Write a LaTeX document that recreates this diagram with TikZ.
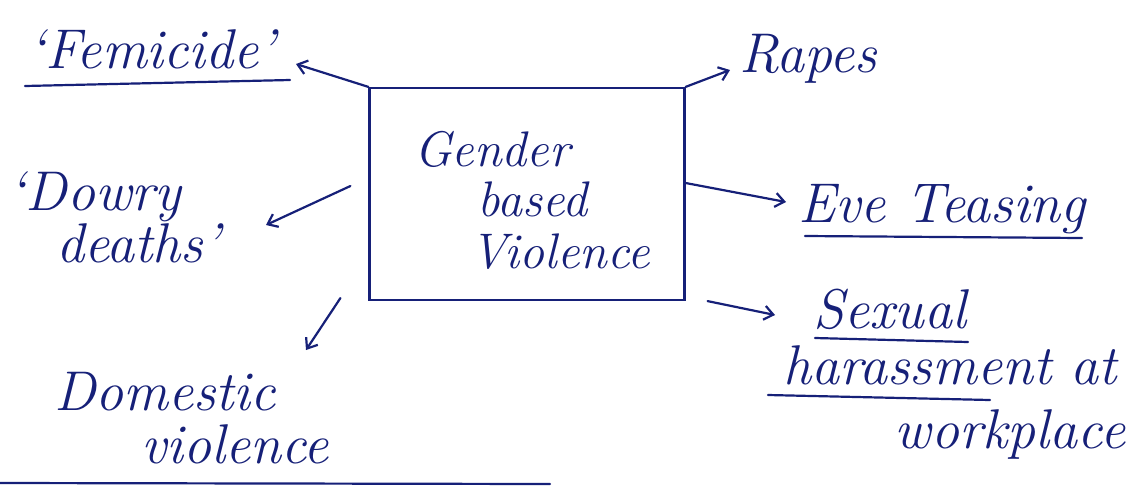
\documentclass[tikz,border=0pt]{standalone}
\usetikzlibrary{arrows.meta}
\definecolor{ink}{RGB}{22,32,120}
\begin{document}
\begin{tikzpicture}[x=1pt,y=-1pt,
  every node/.style={text=ink, font=\fontsize{56}{54}\selectfont\itshape, inner sep=0pt},
  boxtext/.style={font=\fontsize{50}{50}\selectfont\itshape, anchor=base},
  pen/.style={draw=ink, line width=2.2pt, line cap=round},
  link/.style={pen, -{Straight Barb[length=9pt,width=14pt]}},
  uline/.style={pen}]
\useasboundingbox (0,0) rectangle (1140,488);
\fill[white] (0,0) rectangle (1140,488);
% central box
\node[pen, minimum width=315pt, minimum height=212pt] (gbv) at (527,194) {};
\node[boxtext] (g1) at (492,166) {Gender};
\node[boxtext] (g2) at (532,216) {based};
\node[boxtext] (g3) at (560,268) {Violence};
% labels
\node[anchor=base] (fem) at (152,68) {‘Femicide’};
\node[anchor=base] (rapes) at (808,72) {Rapes};
\node[anchor=base] (eve) at (942,222) {Eve Teasing};
\node[anchor=base] (sex) at (890,328) {Sexual};
\node[anchor=base] (har) at (950,384) {harassment at};
\node[anchor=base] (work) at (1010,448) {workplace};
\node[anchor=base] (dow1) at (95,210) {‘Dowry};
\node[anchor=base] (dow2) at (138,262) {deaths’};
\node[anchor=base] (dom1) at (165,410) {Domestic};
\node[anchor=base] (dom2) at (235,463) {violence};
% underlines
\coordinate (u1a) at (25,86); \coordinate (u1b) at (290,80);
\draw[uline] (u1a) -- (u1b);
\coordinate (u2a) at (805,236); \coordinate (u2b) at (1082,238);
\draw[uline] (u2a) -- (u2b);
\coordinate (u3a) at (815,338); \coordinate (u3b) at (968,342);
\draw[uline] (u3a) -- (u3b);
\coordinate (u4a) at (768,395); \coordinate (u4b) at (990,400);
\draw[uline] (u4a) -- (u4b);
\coordinate (u5a) at (0,483); \coordinate (u5b) at (550,484);
\draw[uline] (u5a) -- (u5b);
% arrow tips
\coordinate (tfem) at (296,64);
\coordinate (trap) at (730,70);
\coordinate (teve) at (786,202);
\coordinate (tsex) at (775,315);
\coordinate (tdow) at (266,225);
\coordinate (tdom) at (306,350);
% connectors
\draw[link] (gbv.north west) -- (tfem);
\draw[link] (gbv.north east) -- (trap);
\draw[link] ([yshift=11pt]gbv.east) -- (teve);
\draw[link] ([xshift=22pt]gbv.south east) -- (tsex);
\draw[link] ([xshift=-18pt,yshift=8pt]gbv.west) -- (tdow);
\draw[link] ([xshift=-28pt,yshift=3pt]gbv.south west) -- (tdom);
\end{tikzpicture}
\end{document}
